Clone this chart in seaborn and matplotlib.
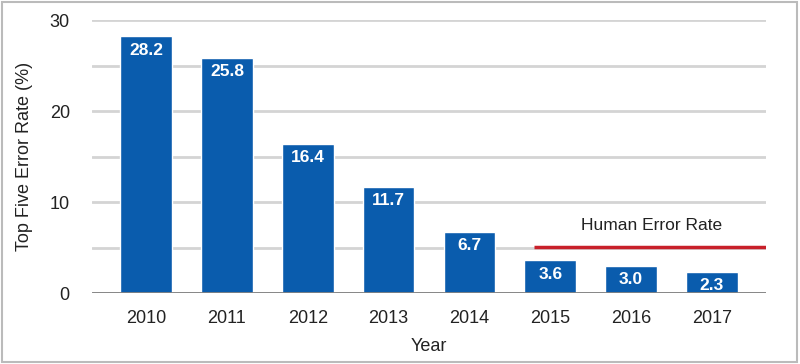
import pandas as pd
import seaborn as sns
import matplotlib.pyplot as plt
from matplotlib.patches import Rectangle

years = ["2010", "2011", "2012", "2013", "2014", "2015", "2016", "2017"]
error_rates = [28.2, 25.8, 16.4, 11.7, 6.7, 3.6, 3.0, 2.3]
human_error_rate = 5.1
human_label = "Human Error Rate"

sns.set_theme(style="white")
plt.rcParams["font.family"] = ["Liberation Sans", "DejaVu Sans"]

data_plot = pd.DataFrame({"year": years, "rate": error_rates})

fig = plt.figure(figsize=(8, 3.64), dpi=100)
ax = fig.add_axes([0.115, 0.195, 0.8425, 0.75])

sns.barplot(data=data_plot, x="year", y="rate", color="#0a5cad", saturation=1,
            width=0.64, ax=ax, zorder=3)

ax.set_ylim(0, 30)
ax.set_xlim(-0.67, 7.67)
ax.set_yticks([0, 10, 20, 30])
ax.set_yticks([5, 15, 25], minor=True)
ax.grid(axis="y", which="both", color="#d4d4d4", linewidth=2, zorder=0)
ax.set_axisbelow(True)
for s in ax.spines.values():
    s.set_visible(False)
ax.axhline(0, color="#808080", linewidth=2, zorder=4)
ax.tick_params(axis="both", which="both", length=0, labelsize=13, colors="#222222")
ax.tick_params(axis="x", pad=12)
ax.tick_params(axis="y", pad=16)
ax.set_xlabel("Year", fontsize=13, color="#222222", labelpad=8)
ax.set_ylabel("Top Five Error Rate (%)", fontsize=13, color="#222222", labelpad=12)

# white value labels just inside the top of each bar
for bar, v in zip(ax.patches, error_rates):
    ax.annotate(f"{v:.1f}", (bar.get_x() + bar.get_width() / 2, v),
                xytext=(0, -4.5), textcoords="offset points", ha="center", va="top",
                color="white", fontsize=12.5, fontweight="bold", zorder=5)

ax.plot([4.8, 7.67], [human_error_rate, human_error_rate], color="#c8202a",
        linewidth=2.5, zorder=5, solid_capstyle="butt")
ax.text(6.26, 7.4, human_label, ha="center", va="center", fontsize=12.5, color="#222222")

fig.patches.append(Rectangle((0.002, 0.005), 0.994, 0.99, transform=fig.transFigure,
                             fill=False, edgecolor="#bbbbbb", linewidth=1.5))

fig.savefig("out.png", dpi=100)
